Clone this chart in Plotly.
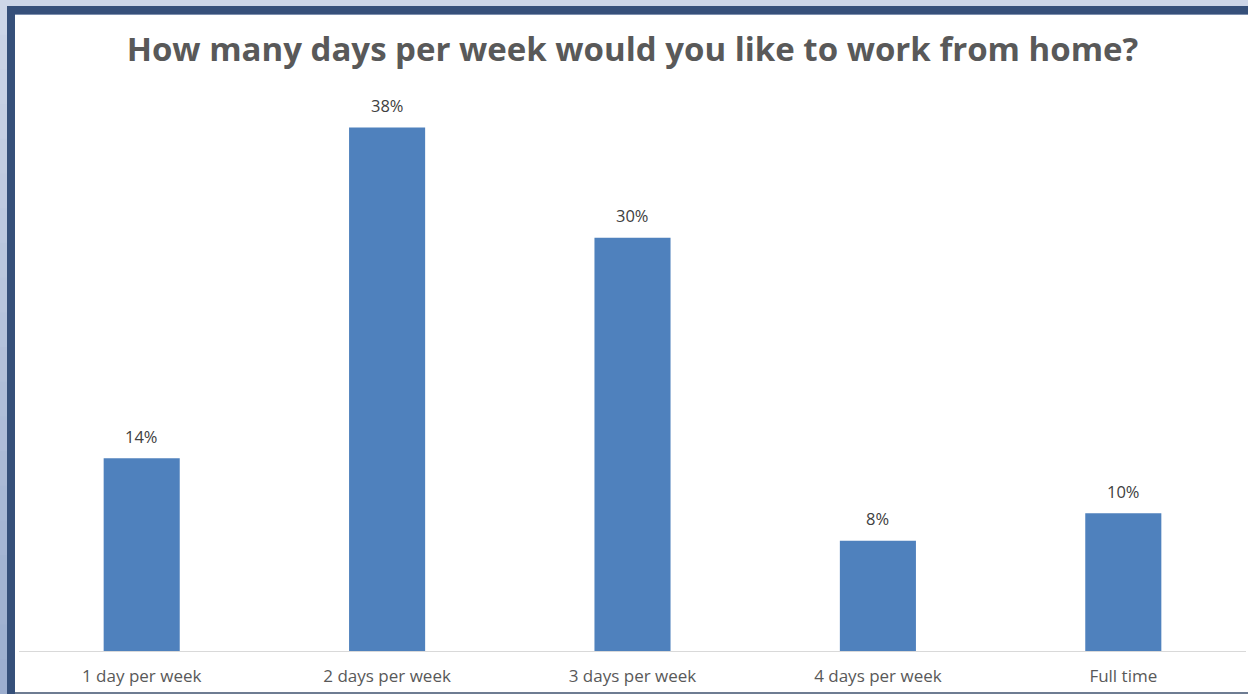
import plotly.graph_objects as go

categories = ["1 day per week", "2 days per week", "3 days per week", "4 days per week", "Full time"]
values = [14, 38, 30, 8, 10]
labels = ["14%", "38%", "30%", "8%", "10%"]
title_text = "How many days per week would you like to work from home?"

W, H = 1248, 694
L, R, T, B = 19, 2, 100, 43
PW = W - L - R
PH = H - T - B

def px(x):
    return (x - L) / PW

def py(y):
    return (H - B - y) / PH

FONT = "Open Sans, Lato, sans-serif"

fig = go.Figure()
fig.add_trace(go.Bar(
    x=categories, y=values, width=0.31,
    marker=dict(color="#4f81bd", line=dict(width=0)),
    hoverinfo="skip",
))

for c, v, t in zip(categories, values, labels):
    fig.add_annotation(x=c, y=v, text=t, showarrow=False, yshift=22,
                       font=dict(family=FONT, size=16.5, color="#404040"))

shapes = []
# left gradient strip
n = 20
c0 = (0xcd, 0xd6, 0xe8)
c1 = (0x9c, 0xae, 0xcf)
for i in range(n):
    f = i / (n - 1)
    col = "rgb(%d,%d,%d)" % tuple(int(a + (b - a) * f) for a, b in zip(c0, c1))
    y0 = i * H / n
    y1 = (i + 1) * H / n + 1
    shapes.append(dict(type="rect", xref="paper", yref="paper", x0=px(0), x1=px(7),
                       y0=py(y0), y1=py(y1), fillcolor=col, line=dict(width=0), layer="below"))
# navy frame
shapes.append(dict(type="rect", xref="paper", yref="paper", x0=px(7), x1=px(W + 5),
                   y0=py(6), y1=py(H + 5), fillcolor="#36507a", line=dict(width=0), layer="below"))
# light edge under top border
shapes.append(dict(type="rect", xref="paper", yref="paper", x0=px(15), x1=px(W + 5),
                   y0=py(14), y1=py(15), fillcolor="#7d8fae", line=dict(width=0), layer="below"))
# white panel
shapes.append(dict(type="rect", xref="paper", yref="paper", x0=px(15), x1=px(W + 5),
                   y0=py(15), y1=py(692), fillcolor="#ffffff", line=dict(width=0), layer="below"))
# bottom gray edge
shapes.append(dict(type="rect", xref="paper", yref="paper", x0=px(15), x1=px(W + 5),
                   y0=py(692), y1=py(H + 5), fillcolor="#6e7c92", line=dict(width=0), layer="below"))

fig.update_layout(
    width=W, height=H,
    margin=dict(l=L, r=R, t=T, b=B, pad=0),
    paper_bgcolor="#cdd6e8",
    plot_bgcolor="rgba(0,0,0,0)",
    showlegend=False,
    shapes=shapes,
    title=dict(text="<b>" + title_text + "</b>", x=0.5, xanchor="center", xref="paper",
               y=1 - 49 / H, yanchor="middle",
               font=dict(family=FONT, size=33, color="#595959")),
    xaxis=dict(showline=True, linecolor="#d9d9d9", linewidth=1, showgrid=False, ticks="",
               ticklabelstandoff=10,
               tickfont=dict(family=FONT, size=17, color="#595959"),
               fixedrange=True),
    yaxis=dict(range=[0, 40], visible=False, showgrid=False, zeroline=False, fixedrange=True),
)

fig.write_html("out.html", config={"displayModeBar": False},
               post_script="document.body.style.margin='0';document.body.style.overflow='hidden';")
